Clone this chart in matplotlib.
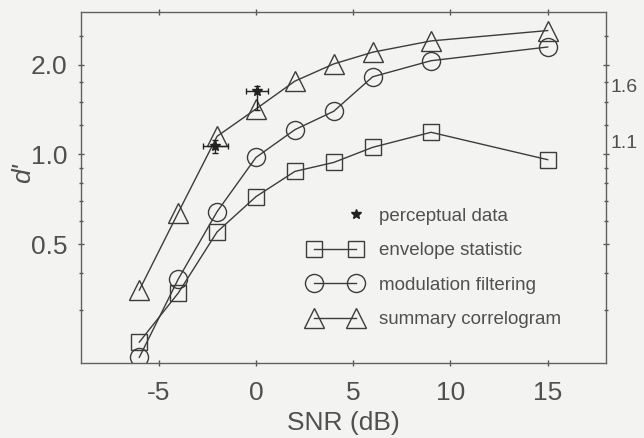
import matplotlib
matplotlib.use("Agg")
import matplotlib.pyplot as plt
from matplotlib.lines import Line2D
from matplotlib.legend_handler import HandlerLine2D
from matplotlib.ticker import FixedLocator, NullFormatter

plt.rcParams['font.family'] = ['Liberation Sans', 'DejaVu Sans']

# ---- data ----
snr = [-6, -4, -2, 0, 2, 4, 6, 9, 15]
envelope_statistic = [0.235, 0.343, 0.55, 0.722, 0.877, 0.94, 1.056, 1.186, 0.96]
modulation_filtering = [0.209, 0.382, 0.643, 0.977, 1.21, 1.395, 1.82, 2.06, 2.29]
summary_correlogram = [0.351, 0.638, 1.15, 1.42, 1.76, 2.01, 2.2, 2.4, 2.6]

perc_snr = [-2.1, 0.05]
perc_d = [1.064, 1.63]
perc_xerr = [0.65, 0.55]
perc_yerr_low = [0.05, 0.22]
perc_yerr_high = [0.05, 0.06]

x_ticks = [-5, 0, 5, 10, 15]
y_ticks = [0.5, 1.0, 2.0]
y_ticklabels = ['0.5', '1.0', '2.0']
y_minor = [0.3, 0.4, 0.6, 0.7, 0.8, 0.9, 1.25, 1.5, 1.75, 2.5]

labels = ['perceptual data', 'envelope statistic', 'modulation filtering', 'summary correlogram']

BG = '#f3f3f1'
LC = '#3c3c3c'
TC = '#505050'

fig = plt.figure(figsize=(6.44, 4.38), dpi=100, facecolor=BG)
W, H = 644, 438
ax = fig.add_axes([81 / W, 1 - 363 / H, (606 - 81) / W, (363 - 12) / H], facecolor=BG)

ax.set_yscale('log')
ax.set_xlim(-9, 18)
ax.set_ylim(0.2, 3.0)

mk = dict(markerfacecolor='none', markeredgecolor=LC, markeredgewidth=1.0, color=LC, linewidth=1.0)
l_env, = ax.plot(snr, envelope_statistic, marker='s', markersize=11.5, **mk)
l_mod, = ax.plot(snr, modulation_filtering, marker='o', markersize=13, **mk)
l_sum, = ax.plot(snr, summary_correlogram, marker='^', markersize=14, **mk)

ax.errorbar(perc_snr, perc_d, xerr=perc_xerr, yerr=[perc_yerr_low, perc_yerr_high],
            fmt='*', color='#222222', markersize=8, elinewidth=1.0, capsize=2, zorder=5)

ax.set_xticks(x_ticks)
ax.set_xticklabels([f'{v}' for v in x_ticks])
ax.yaxis.set_major_locator(FixedLocator(y_ticks))
ax.set_yticklabels(y_ticklabels)
ax.yaxis.set_minor_locator(FixedLocator(y_minor))
ax.yaxis.set_minor_formatter(NullFormatter())

ax.tick_params(axis='both', which='major', direction='inout', length=4, width=1,
               color='#555555', labelsize=19, labelcolor=TC, top=True, right=True)
ax.tick_params(axis='y', which='minor', direction='inout', length=3, width=1,
               color='#555555', right=True)
ax.tick_params(axis='x', which='major', pad=11)
ax.tick_params(axis='y', which='major', pad=8)

for s in ax.spines.values():
    s.set_color('#606060')
    s.set_linewidth(1.0)

ax.set_xlabel('SNR (dB)', fontsize=19, color=TC, labelpad=4)
ax.set_ylabel("d'", fontsize=19, color=TC, style='italic')
ax.yaxis.set_label_coords(-0.088, 0.54)


class RightMarkerHandler(HandlerLine2D):
    def create_artists(self, legend, orig_handle, xdescent, ydescent, width, height,
                       fontsize, trans):
        artists = super().create_artists(legend, orig_handle, xdescent, ydescent,
                                         width, height, fontsize, trans)
        for a in artists:
            n = len(a.get_xdata())
            a.set_markevery([n - 1])
        return artists


# legend
h_perc = Line2D([], [], linestyle='none', marker='*', markersize=7, color='#222222')
handles = [h_perc, l_env, l_mod, l_sum]
leg = ax.legend(handles, labels, loc='upper left', bbox_to_anchor=(0.418, 0.464),
                frameon=False, fontsize=13.5, numpoints=2, handlelength=2.87,
                handletextpad=0.9, labelspacing=0.93, borderpad=0.4, borderaxespad=0,
                handler_map={h_perc: RightMarkerHandler()})
for t in leg.get_texts():
    t.set_color(TC)

# stray labels at the right edge (from a neighbouring panel)
fig.text(610 / W, 1 - 88 / H, '1.6', fontsize=14, color=TC, ha='left', va='center')
fig.text(610 / W, 1 - 143 / H, '1.1', fontsize=14, color=TC, ha='left', va='center')

fig.savefig('out.png', dpi=100, facecolor=BG)
